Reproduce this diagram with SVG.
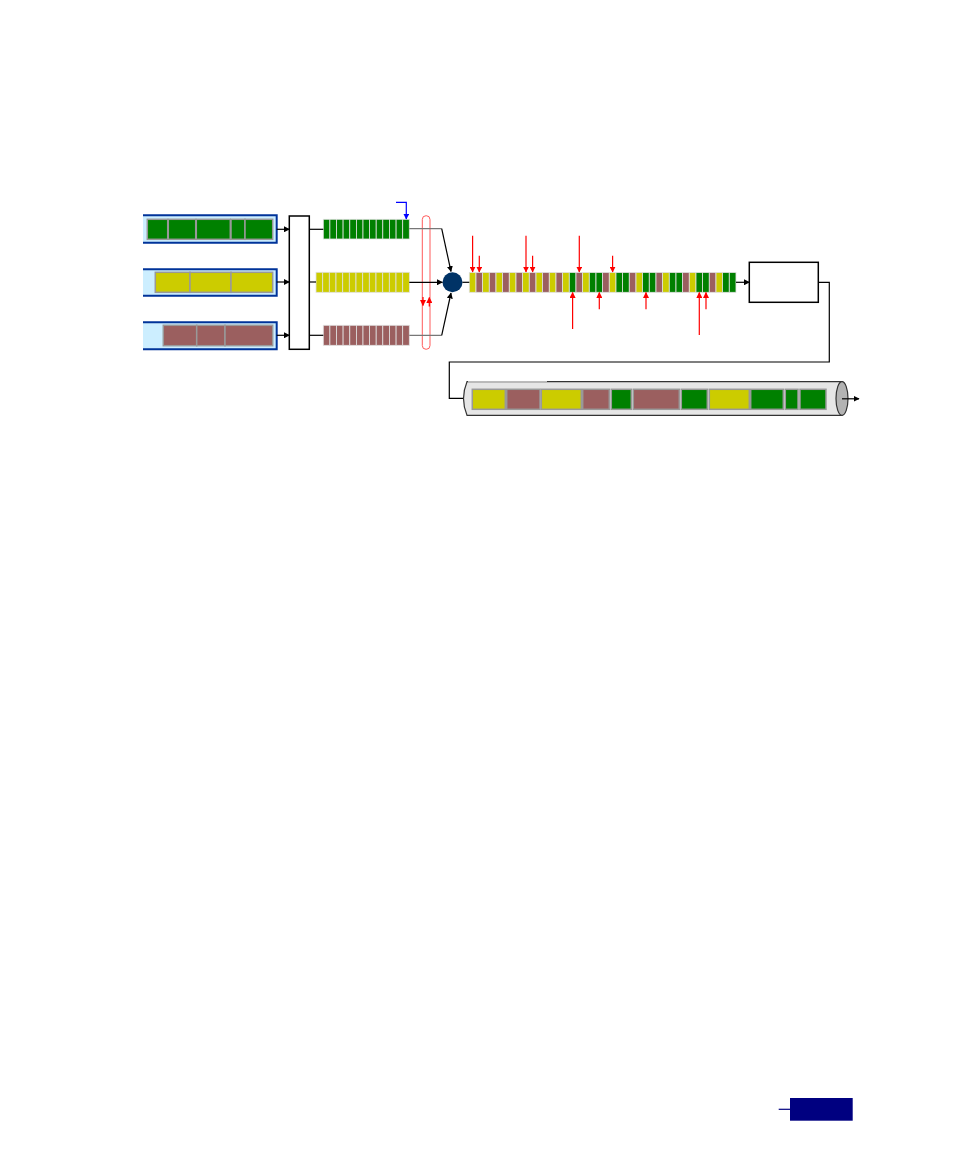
<svg xmlns="http://www.w3.org/2000/svg" width="954" height="1167" viewBox="0 0 954 1167">
<style>
.g{fill:#008000}.y{fill:#cccc00}.b{fill:#9b5f5f}
.pk{stroke:#999999;stroke-width:1.5}
.cell{stroke:#e0e0e0;stroke-width:0.8}
.inbox{fill:#cceeff;stroke:none}
.inedge{fill:none;stroke:#003399;stroke-width:2}
.blk{fill:none;stroke:#000;stroke-width:1.2}
.gry{fill:none;stroke:#777;stroke-width:1.2}
.red{fill:none;stroke:#ff0000;stroke-width:1.2}
</style>
<defs>
<marker id="ab" viewBox="0 0 10 10" refX="9" refY="5" markerWidth="6" markerHeight="6" markerUnits="userSpaceOnUse" orient="auto"><path d="M0,0 L10,5 L0,10 Z" fill="#000"/></marker>
<marker id="ar" viewBox="0 0 10 10" refX="9" refY="5" markerWidth="6" markerHeight="6" markerUnits="userSpaceOnUse" orient="auto"><path d="M0,0 L10,5 L0,10 Z" fill="#ff0000"/></marker>
<marker id="abl" viewBox="0 0 10 10" refX="9" refY="5" markerWidth="6" markerHeight="6" markerUnits="userSpaceOnUse" orient="auto"><path d="M0,0 L10,5 L0,10 Z" fill="#0000ff"/></marker>
</defs>
<rect width="954" height="1167" fill="#ffffff"/>

<g id="input-green">
<rect class="inbox" x="143" y="215.3" width="133.7" height="27.4"/>
<path class="inedge" d="M143,215.3 H276.7 V242.7 H143"/>
<rect class="g pk" x="147.3" y="219.3" width="20.4" height="20"/>
<rect class="g pk" x="168.3" y="219.3" width="27.4" height="20"/>
<rect class="g pk" x="196.3" y="219.3" width="34" height="20"/>
<rect class="g pk" x="231" y="219.3" width="14" height="20"/>
<rect class="g pk" x="245" y="219.3" width="27.7" height="20"/>
</g>
<g id="input-yellow">
<rect class="inbox" x="143" y="269.3" width="133.7" height="26.4"/>
<path class="inedge" d="M143,269.3 H276.7 V295.7 H143"/>
<rect class="y pk" x="155.3" y="272.3" width="34.7" height="20"/>
<rect class="y pk" x="190" y="272.3" width="41" height="20"/>
<rect class="y pk" x="231" y="272.3" width="41.7" height="20"/>
</g>
<g id="input-brown">
<rect class="inbox" x="143" y="322.3" width="133.7" height="27"/>
<path class="inedge" d="M143,322.3 H276.7 V349.3 H143"/>
<rect class="b pk" x="163.3" y="325.3" width="33.4" height="20.4"/>
<rect class="b pk" x="196.7" y="325.3" width="28.3" height="20.4"/>
<rect class="b pk" x="225" y="325.3" width="47.7" height="20.4"/>
</g>

<g id="classifier">
<rect x="289.3" y="216" width="20" height="133.3" fill="#fff" stroke="#000" stroke-width="1.5"/>
</g>

<g id="queue-green">
<rect class="g cell" x="323.3" y="219.3" width="6.6" height="19.7"/>
<rect class="g cell" x="329.9" y="219.3" width="6.6" height="19.7"/>
<rect class="g cell" x="336.5" y="219.3" width="6.6" height="19.7"/>
<rect class="g cell" x="343.1" y="219.3" width="6.6" height="19.7"/>
<rect class="g cell" x="349.8" y="219.3" width="6.6" height="19.7"/>
<rect class="g cell" x="356.4" y="219.3" width="6.6" height="19.7"/>
<rect class="g cell" x="363.0" y="219.3" width="6.6" height="19.7"/>
<rect class="g cell" x="369.6" y="219.3" width="6.6" height="19.7"/>
<rect class="g cell" x="376.2" y="219.3" width="6.6" height="19.7"/>
<rect class="g cell" x="382.8" y="219.3" width="6.6" height="19.7"/>
<rect class="g cell" x="389.5" y="219.3" width="6.6" height="19.7"/>
<rect class="g cell" x="396.1" y="219.3" width="6.6" height="19.7"/>
<rect class="g cell" x="402.7" y="219.3" width="6.6" height="19.7"/>
</g>
<g id="queue-yellow">
<rect class="y cell" x="316" y="272.3" width="6.67" height="20"/>
<rect class="y cell" x="322.7" y="272.3" width="6.67" height="20"/>
<rect class="y cell" x="329.3" y="272.3" width="6.67" height="20"/>
<rect class="y cell" x="336" y="272.3" width="6.67" height="20"/>
<rect class="y cell" x="342.7" y="272.3" width="6.67" height="20"/>
<rect class="y cell" x="349.3" y="272.3" width="6.67" height="20"/>
<rect class="y cell" x="356" y="272.3" width="6.67" height="20"/>
<rect class="y cell" x="362.7" y="272.3" width="6.67" height="20"/>
<rect class="y cell" x="369.3" y="272.3" width="6.67" height="20"/>
<rect class="y cell" x="376" y="272.3" width="6.67" height="20"/>
<rect class="y cell" x="382.7" y="272.3" width="6.67" height="20"/>
<rect class="y cell" x="389.3" y="272.3" width="6.67" height="20"/>
<rect class="y cell" x="396" y="272.3" width="6.67" height="20"/>
<rect class="y cell" x="402.7" y="272.3" width="6.67" height="20"/>
</g>
<g id="queue-brown">
<rect class="b cell" x="323.3" y="325.3" width="6.6" height="20"/>
<rect class="b cell" x="329.9" y="325.3" width="6.6" height="20"/>
<rect class="b cell" x="336.5" y="325.3" width="6.6" height="20"/>
<rect class="b cell" x="343.1" y="325.3" width="6.6" height="20"/>
<rect class="b cell" x="349.8" y="325.3" width="6.6" height="20"/>
<rect class="b cell" x="356.4" y="325.3" width="6.6" height="20"/>
<rect class="b cell" x="363.0" y="325.3" width="6.6" height="20"/>
<rect class="b cell" x="369.6" y="325.3" width="6.6" height="20"/>
<rect class="b cell" x="376.2" y="325.3" width="6.6" height="20"/>
<rect class="b cell" x="382.8" y="325.3" width="6.6" height="20"/>
<rect class="b cell" x="389.5" y="325.3" width="6.6" height="20"/>
<rect class="b cell" x="396.1" y="325.3" width="6.6" height="20"/>
<rect class="b cell" x="402.7" y="325.3" width="6.6" height="20"/>
</g>

<g id="scheduler-window">
<rect x="422.3" y="215.7" width="7.7" height="133.6" rx="3.8" fill="none" stroke="#ff5a5a" stroke-width="1"/>
</g>

<g id="scheduler">
<circle cx="452.5" cy="282.3" r="10" fill="#003366"/>
</g>

<g id="stream">
<rect class="y cell" x="469.3" y="272.5" width="6.67" height="19.8"/>
<rect class="b cell" x="476.0" y="272.5" width="6.67" height="19.8"/>
<rect class="y cell" x="482.6" y="272.5" width="6.67" height="19.8"/>
<rect class="b cell" x="489.3" y="272.5" width="6.67" height="19.8"/>
<rect class="y cell" x="496.0" y="272.5" width="6.67" height="19.8"/>
<rect class="b cell" x="502.6" y="272.5" width="6.67" height="19.8"/>
<rect class="y cell" x="509.3" y="272.5" width="6.67" height="19.8"/>
<rect class="b cell" x="516.0" y="272.5" width="6.67" height="19.8"/>
<rect class="y cell" x="522.6" y="272.5" width="6.67" height="19.8"/>
<rect class="b cell" x="529.3" y="272.5" width="6.67" height="19.8"/>
<rect class="y cell" x="536.0" y="272.5" width="6.67" height="19.8"/>
<rect class="b cell" x="542.6" y="272.5" width="6.67" height="19.8"/>
<rect class="y cell" x="549.3" y="272.5" width="6.67" height="19.8"/>
<rect class="b cell" x="556.0" y="272.5" width="6.67" height="19.8"/>
<rect class="y cell" x="562.6" y="272.5" width="6.67" height="19.8"/>
<rect class="g cell" x="569.3" y="272.5" width="6.67" height="19.8"/>
<rect class="b cell" x="576.0" y="272.5" width="6.67" height="19.8"/>
<rect class="y cell" x="582.6" y="272.5" width="6.67" height="19.8"/>
<rect class="g cell" x="589.3" y="272.5" width="6.67" height="19.8"/>
<rect class="g cell" x="596.0" y="272.5" width="6.67" height="19.8"/>
<rect class="b cell" x="602.6" y="272.5" width="6.67" height="19.8"/>
<rect class="y cell" x="609.3" y="272.5" width="6.67" height="19.8"/>
<rect class="g cell" x="616.0" y="272.5" width="6.67" height="19.8"/>
<rect class="g cell" x="622.6" y="272.5" width="6.67" height="19.8"/>
<rect class="b cell" x="629.3" y="272.5" width="6.67" height="19.8"/>
<rect class="y cell" x="636.0" y="272.5" width="6.67" height="19.8"/>
<rect class="g cell" x="642.6" y="272.5" width="6.67" height="19.8"/>
<rect class="g cell" x="649.3" y="272.5" width="6.67" height="19.8"/>
<rect class="b cell" x="656.0" y="272.5" width="6.67" height="19.8"/>
<rect class="y cell" x="662.6" y="272.5" width="6.67" height="19.8"/>
<rect class="g cell" x="669.3" y="272.5" width="6.67" height="19.8"/>
<rect class="g cell" x="676.0" y="272.5" width="6.67" height="19.8"/>
<rect class="b cell" x="682.6" y="272.5" width="6.67" height="19.8"/>
<rect class="y cell" x="689.3" y="272.5" width="6.67" height="19.8"/>
<rect class="g cell" x="696.0" y="272.5" width="6.67" height="19.8"/>
<rect class="g cell" x="702.6" y="272.5" width="6.67" height="19.8"/>
<rect class="b cell" x="709.3" y="272.5" width="6.67" height="19.8"/>
<rect class="y cell" x="716.0" y="272.5" width="6.67" height="19.8"/>
<rect class="g cell" x="722.6" y="272.5" width="6.67" height="19.8"/>
<rect class="g cell" x="729.3" y="272.5" width="6.67" height="19.8"/>
</g>

<g id="output-box">
<rect x="749.3" y="262.3" width="69" height="40" fill="#fff" stroke="#000" stroke-width="1.5"/>
</g>

<g id="pipe">
<path d="M467,381.7 H842 V415.3 H467 Q460,398.5 467,381.7 Z" fill="#e6e6e6" stroke="#333" stroke-width="1.2"/>
<line x1="468" y1="381.7" x2="547" y2="381.7" stroke="#bbbbbb" stroke-width="1.2"/>
<ellipse cx="842" cy="398.5" rx="6" ry="16.8" fill="#b3b3b3" stroke="#333" stroke-width="1.2"/>
<rect class="y pk" x="472.3" y="389.3" width="33" height="20"/>
<rect class="b pk" x="506.7" y="389.3" width="33.3" height="20"/>
<rect class="y pk" x="541.3" y="389.3" width="40" height="20"/>
<rect class="b pk" x="582.7" y="389.3" width="26.6" height="20"/>
<rect class="g pk" x="611.3" y="389.3" width="20" height="20"/>
<rect class="b pk" x="633.3" y="389.3" width="46" height="20"/>
<rect class="g pk" x="681.3" y="389.3" width="26" height="20"/>
<rect class="y pk" x="709.3" y="389.3" width="40" height="20"/>
<rect class="g pk" x="750.7" y="389.3" width="32.6" height="20"/>
<rect class="g pk" x="785.3" y="389.3" width="12.7" height="20"/>
<rect class="g pk" x="800" y="389.3" width="26" height="20"/>
</g>

<g id="page-tab">
<rect x="790" y="1098" width="62.7" height="22.7" fill="#000080"/>
<line x1="778.7" y1="1109.3" x2="790" y2="1109.3" stroke="#000080" stroke-width="1.2"/>
</g>

<g id="connectors">
<line class="blk" x1="276.7" y1="229.3" x2="289.3" y2="229.3" marker-end="url(#ab)"/>
<line class="blk" x1="276.7" y1="282" x2="289.3" y2="282" marker-end="url(#ab)"/>
<line class="blk" x1="276.7" y1="335.3" x2="289.3" y2="335.3" marker-end="url(#ab)"/>
<line class="blk" x1="309.3" y1="229.3" x2="323.3" y2="229.3"/>
<line class="blk" x1="309.3" y1="282" x2="316" y2="282"/>
<line class="blk" x1="309.3" y1="335.3" x2="323.3" y2="335.3"/>
<polyline class="gry" points="409.3,228.7 441.7,228.7"/>
<line class="blk" x1="441.7" y1="228.7" x2="451" y2="271.5" marker-end="url(#ab)"/>
<line class="blk" x1="409.3" y1="282.3" x2="442.3" y2="282.3" marker-end="url(#ab)"/>
<polyline class="gry" points="409.3,335.3 441.7,335.3"/>
<line class="blk" x1="441.7" y1="335.3" x2="451" y2="293" marker-end="url(#ab)"/>
<polyline points="396,202.3 406.3,202.3 406.3,219" fill="none" stroke="#0000ff" stroke-width="1.2" marker-end="url(#abl)"/>
<line class="red" x1="423" y1="297" x2="423" y2="305.5" marker-end="url(#ar)"/>
<line class="red" x1="429.3" y1="306.5" x2="429.3" y2="297.5" marker-end="url(#ar)"/>
<line class="blk" x1="462.5" y1="282.3" x2="469.3" y2="282.3"/>
<line class="blk" x1="736" y1="282.3" x2="749.3" y2="282.3" marker-end="url(#ab)"/>
<polyline class="blk" points="818.3,282.3 829.3,282.3 829.3,362 449.3,362 449.3,398.3 463,398.3"/>
<line class="blk" x1="842" y1="398.8" x2="859" y2="398.8" marker-end="url(#ab)"/>
<line class="red" x1="472.6" y1="235.7" x2="472.6" y2="272" marker-end="url(#ar)"/>
<line class="red" x1="479.3" y1="255.7" x2="479.3" y2="272" marker-end="url(#ar)"/>
<line class="red" x1="526" y1="235.7" x2="526" y2="272" marker-end="url(#ar)"/>
<line class="red" x1="532.6" y1="255.7" x2="532.6" y2="272" marker-end="url(#ar)"/>
<line class="red" x1="579.3" y1="235.7" x2="579.3" y2="272" marker-end="url(#ar)"/>
<line class="red" x1="612.6" y1="255.7" x2="612.6" y2="272" marker-end="url(#ar)"/>
<line class="red" x1="572.6" y1="329" x2="572.6" y2="292.5" marker-end="url(#ar)"/>
<line class="red" x1="599.3" y1="309.3" x2="599.3" y2="292.5" marker-end="url(#ar)"/>
<line class="red" x1="646" y1="309.3" x2="646" y2="292.5" marker-end="url(#ar)"/>
<line class="red" x1="699.3" y1="335" x2="699.3" y2="292.5" marker-end="url(#ar)"/>
<line class="red" x1="706" y1="309.3" x2="706" y2="292.5" marker-end="url(#ar)"/>
</g>
</svg>
